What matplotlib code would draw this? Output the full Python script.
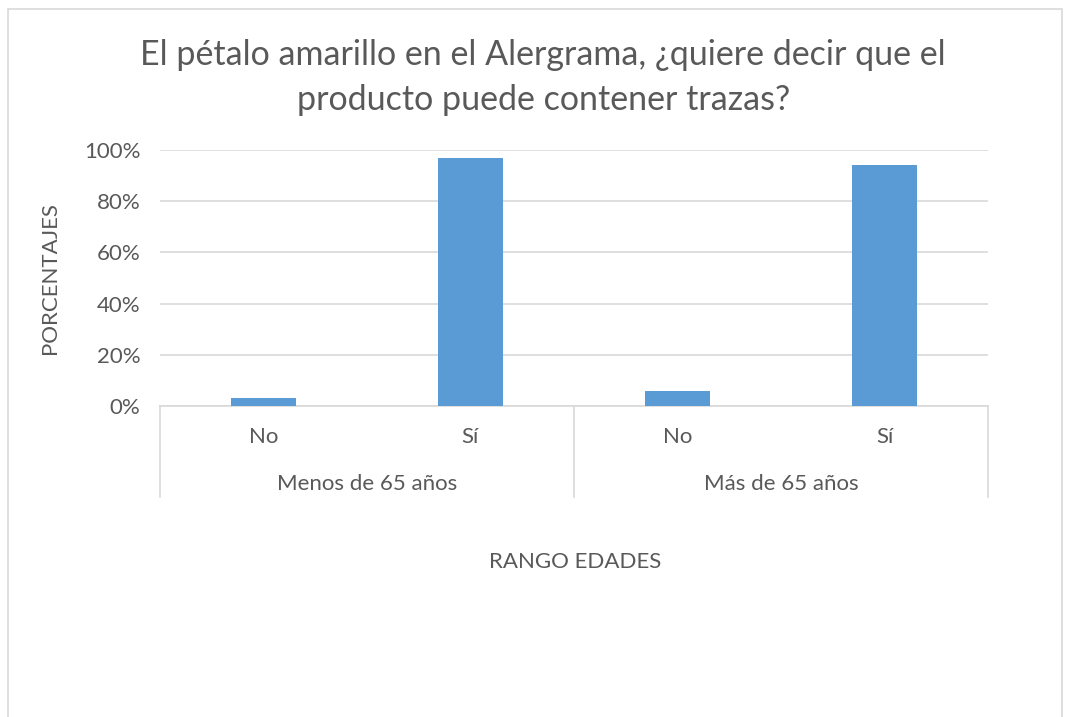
import matplotlib.pyplot as plt
from matplotlib.patches import Rectangle
import numpy as np

groups = ["Menos de 65 años", "Más de 65 años"]
answers = ["No", "Sí"]
values = [0.03, 0.97, 0.06, 0.94]
yticks = [0.0, 0.2, 0.4, 0.6, 0.8, 1.0]
ytick_labels = ["0%", "20%", "40%", "60%", "80%", "100%"]

title = "El pétalo amarillo en el Alergrama, ¿quiere decir que el\nproducto puede contener trazas?"
ylabel = "PORCENTAJES"
xlabel = "RANGO EDADES"

plt.rcParams["font.family"] = ["Lato", "DejaVu Sans"]
grey = "#595959"
line_grey = "#d9d9d9"
fs = 16

fig = plt.figure(figsize=(10.65, 7.17), dpi=100)
fig.patches.append(Rectangle((0.0075, -0.01), 0.990, 0.997, transform=fig.transFigure,
                             fill=False, edgecolor=line_grey, linewidth=1.2))

ax = fig.add_axes([0.1502, 0.4338, 0.7775, 0.357])
x = np.arange(len(values))
ax.bar(x, values, width=0.31, color="#5b9bd5", zorder=3)
ax.set_xlim(-0.5, len(values) - 0.5)
ax.set_ylim(0, 1)
ax.set_yticks(yticks)
ax.set_yticklabels(ytick_labels, fontsize=fs, color=grey)
ax.tick_params(axis="y", length=0, pad=14)
ax.grid(axis="y", color=line_grey, linewidth=1.2, zorder=0)
for s in ["top", "right", "left"]:
    ax.spines[s].set_visible(False)
ax.spines["bottom"].set_color(line_grey)
ax.spines["bottom"].set_linewidth(1.2)
ax.set_xticks([])

# multi-level category axis
tr = ax.get_xaxis_transform()
for xv in [-0.5, 1.5, 3.5]:
    ax.plot([xv, xv], [0, -0.355], transform=tr, color=line_grey, linewidth=1.2, clip_on=False)
for i, v in enumerate(values):
    ax.text(i, -0.12, answers[i % 2], transform=tr, ha="center", va="center",
            fontsize=fs, color=grey)
for j, g in enumerate(groups):
    ax.text(2 * j + 0.5, -0.305, g, transform=tr, ha="center", va="center",
            fontsize=fs, color=grey)

fig.text(0.51, 0.892, title, ha="center", va="center", fontsize=24.5, color=grey,
         linespacing=1.5)
fig.text(0.047, 0.612, ylabel, rotation=90, ha="center", va="center", fontsize=fs, color=grey)
fig.text(0.54, 0.216, xlabel, ha="center", va="center", fontsize=fs, color=grey)

fig.savefig("out.png", dpi=100)
